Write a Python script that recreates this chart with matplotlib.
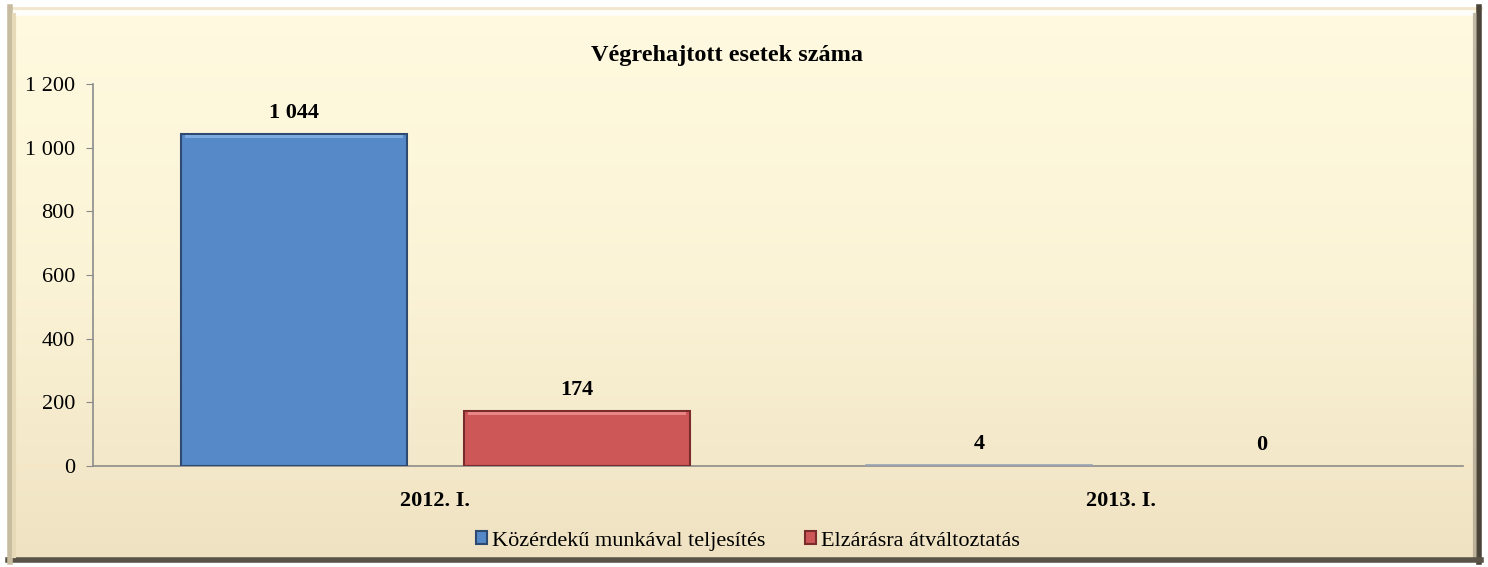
import matplotlib
matplotlib.use("Agg")
import matplotlib.pyplot as plt
import numpy as np
from matplotlib.patches import Rectangle
from matplotlib.colors import LinearSegmentedColormap

categories = ["2012. I.", "2013. I."]
series_names = ["Közérdekű munkával teljesítés", "Elzárásra átváltoztatás"]
kozerdeku = [1044, 4]
elzarasra = [174, 0]
value_labels_a = ["1 044", "4"]
value_labels_b = ["174", "0"]
yticks = [0, 200, 400, 600, 800, 1000, 1200]
ytick_labels = ["0", "200", "400", "600", "800", "1 000", "1 200"]

plt.rcParams['font.family'] = ['Liberation Serif', 'DejaVu Serif']

W, H = 1488, 567
fig = plt.figure(figsize=(W / 100, H / 100), dpi=100)
fig.patch.set_facecolor("white")

# background frame with gradient
bg = fig.add_axes([0, 0, 1, 1], zorder=0)
bg.set_xlim(0, W)
bg.set_ylim(H, 0)
bg.axis("off")
cmap = LinearSegmentedColormap.from_list("cream", ["#FFFAE0", "#FBF3D6", "#EFE2C2"])
grad = np.linspace(0, 1, 256).reshape(-1, 1)
x0, x1, y0, y1 = 8, 1481, 7, 562
bg.imshow(grad, extent=[x0, x1, y1, y0], cmap=cmap, aspect="auto", zorder=0)
# bevel edges
bg.plot([x0, x1], [y0 + 1, y0 + 1], color="#F2E6CC", lw=2, zorder=2)
bg.plot([x0 + 3, x1 - 10], [y0 + 6, y0 + 6], color="white", lw=4, alpha=0.9, zorder=2)
bg.plot([x1 - 2, x1 - 2], [y0, y1], color="#4A4438", lw=4, zorder=2)
bg.plot([x1 - 6, x1 - 6], [y0 + 8, y1 - 4], color="#9A9080", lw=3, alpha=0.6, zorder=2)
bg.plot([x0, x1], [y1 - 2, y1 - 2], color="#5A5448", lw=4, zorder=2)
bg.plot([x0 + 2, x0 + 2], [y0, y1], color="#C8BCA0", lw=4, zorder=2)
bg.plot([x0 + 6, x0 + 6], [y0 + 8, y1 - 6], color="#E6DAB8", lw=3, zorder=2)

left, right, bottom, top = 93, 1463, 466, 84
ax = fig.add_axes([left / W, 1 - bottom / H, (right - left) / W, (bottom - top) / H], zorder=1)
ax.patch.set_alpha(0)

x = np.arange(len(categories))
bw = 0.33
off = 0.206
colors = ["#5689C8", "#CD5657"]
edges = ["#2E4A70", "#7A2C2C"]
ba = ax.bar(x - off, kozerdeku, bw, color=colors[0], edgecolor=edges[0], linewidth=1.5,
            label=series_names[0], zorder=3)
bb = ax.bar(x + off, elzarasra, bw, color=colors[1], edgecolor=edges[1], linewidth=1.5,
            label=series_names[1], zorder=3)
for bars in (ba, bb):
    for r in bars:
        if r.get_height() < 20:
            r.set_edgecolor("#9AA4B0")
            r.set_linewidth(1.2 if r.get_height() > 0 else 0)
            r.set_zorder(5)
# top highlight band for bevel look
for bars, hl in ((ba, "#7FAAE0"), (bb, "#E88585")):
    for r in bars:
        h = r.get_height()
        if h > 20:
            ax.add_patch(Rectangle((r.get_x() + 0.006, h - 14), r.get_width() - 0.012, 10,
                                   color=hl, zorder=4, lw=0))

for i in range(len(categories)):
    ax.text(x[i] - off, kozerdeku[i] + 65, value_labels_a[i], ha="center", va="center",
            fontsize=16, fontweight="bold")
    ax.text(x[i] + off, elzarasra[i] + 65, value_labels_b[i], ha="center", va="center",
            fontsize=16, fontweight="bold")

ax.set_xlim(-0.5, 1.5)
ax.set_ylim(0, 1200)
ax.set_yticks(yticks)
ax.set_yticklabels(ytick_labels, fontsize=16)
ax.set_xticks(x)
ax.set_xticklabels(categories, fontsize=16, fontweight="bold")
ax.tick_params(axis="x", length=0, pad=18)
ax.tick_params(axis="y", length=5, color="#888888", pad=8)
for s in ["top", "right"]:
    ax.spines[s].set_visible(False)
for s in ["left", "bottom"]:
    ax.spines[s].set_color("#8C8C8C")
    ax.spines[s].set_linewidth(1.2)

fig.text(727 / W, 1 - 55 / H, "Végrehajtott esetek száma", ha="center", va="center",
         fontsize=17.5, fontweight="bold")

leg = fig.legend(handles=[ba, bb], labels=series_names, loc="center",
                 bbox_to_anchor=(748 / W, 1 - 541 / H), ncol=2, frameon=False,
                 fontsize=16, handlelength=0.5, handleheight=0.5, handletextpad=0.2,
                 columnspacing=1.8)

fig.savefig("out.png", dpi=100)
